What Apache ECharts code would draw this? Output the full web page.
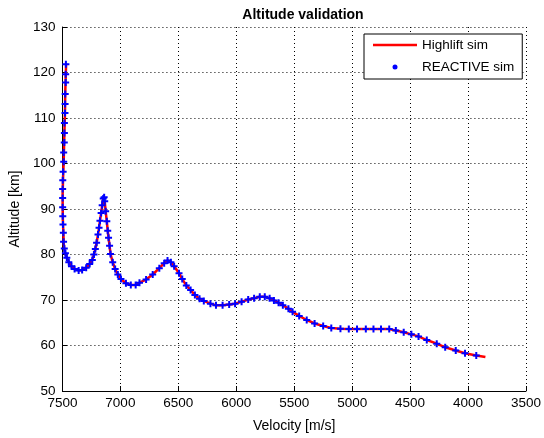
<!DOCTYPE html>
<html>
<head>
<meta charset="utf-8">
<script src="https://cdn.jsdelivr.net/npm/echarts@6/dist/echarts.min.js"></script>
<style>
html,body{margin:0;padding:0;background:#fff;}
#chart{width:544px;height:438px;}
</style>
</head>
<body>
<div id="chart"></div>
<script>
// Tick range
var xTicks = [7500, 7000, 6500, 6000, 5500, 5000, 4500, 4000, 3500];
var yTicks = [50, 60, 70, 80, 90, 100, 110, 120, 130];

// REACTIVE sim (markers)
var reactiveVel = [
  7470, 7472, 7472, 7476, 7477, 7478, 7483, 7483, 7484, 7489, 7489, 7494, 7497, 7498, 7498, 7498, 7497, 7495, 7492,
  7490, 7484, 7474, 7462, 7445, 7422, 7395, 7360, 7330, 7295, 7265, 7242, 7228, 7216, 7205, 7193, 7184, 7176, 7166,
  7157, 7148, 7140, 7135, 7127, 7117, 7109, 7102, 7093, 7085, 7066, 7045, 7022, 6995, 6952, 6910, 6868, 6835, 6778,
  6721, 6664, 6622, 6593, 6564, 6536, 6494, 6466, 6431, 6394, 6357, 6317, 6280, 6223, 6175, 6118, 6061, 6010, 5954,
  5897, 5846, 5797, 5754, 5712, 5675, 5635, 5598, 5550, 5514, 5457, 5392, 5324, 5250, 5180, 5101, 5029, 4958, 4882,
  4816, 4751, 4680, 4623, 4555, 4489, 4427, 4356, 4270, 4197, 4106, 4026, 3929
];
var reactiveAlt = [
  121.8, 119.6, 117.8, 115.3, 113.1, 111.1, 108.9, 106.7, 104.6, 102.4, 100.4, 98.2, 96.3, 94.4, 92.4, 90.4, 88.4, 86.6, 84.8,
  82.8, 81.3, 80.3, 79.3, 78.3, 77.4, 76.8, 76.5, 76.6, 77.1, 77.9, 78.8, 80.0, 81.2, 82.6, 84.4, 85.9, 87.4, 89.1,
  90.8, 92.3, 92.6, 91.7, 89.5, 87.3, 85.2, 83.7, 81.9, 80.1, 78.3, 76.8, 75.6, 74.6, 73.7, 73.3, 73.3, 73.8, 74.5,
  75.6, 77.0, 78.1, 78.7, 78.3, 77.4, 75.9, 74.6, 73.2, 72.2, 71.1, 70.3, 69.8, 69.2, 68.85, 68.85, 69.0, 69.2, 69.6,
  70.1, 70.4, 70.7, 70.7, 70.4, 69.9, 69.4, 68.85, 68.1, 67.4, 66.5, 65.6, 64.85, 64.3, 63.85, 63.7, 63.6, 63.6, 63.6,
  63.6, 63.6, 63.6, 63.3, 62.9, 62.45, 62.0, 61.2, 60.4, 59.6, 58.9, 58.3, 57.8
];

// Highlift sim (line)
var highliftVel = [
  7468, 7472, 7476, 7478, 7483, 7486, 7489, 7494, 7498, 7498, 7496, 7492, 7488, 7480, 7462, 7445, 7422, 7395, 7360,
  7330, 7295, 7265, 7242, 7228, 7216, 7205, 7193, 7184, 7176, 7166, 7157, 7148, 7140, 7135, 7127, 7117, 7109, 7102,
  7093, 7085, 7066, 7045, 7022, 6995, 6952, 6910, 6868, 6835, 6778, 6721, 6664, 6622, 6593, 6564, 6536, 6494, 6466,
  6431, 6394, 6357, 6317, 6280, 6223, 6175, 6118, 6061, 6010, 5954, 5897, 5846, 5797, 5754, 5712, 5675, 5635, 5598,
  5550, 5514, 5457, 5392, 5324, 5250, 5180, 5101, 5029, 4958, 4882, 4816, 4751, 4680, 4623, 4555, 4489, 4427, 4356,
  4270, 4197, 4106, 4026, 3929, 3850
];
var highliftAlt = [
  122.0, 118.8, 115.3, 111.1, 106.7, 103.5, 100.4, 97.2, 93.4, 90.4, 87.5, 84.8, 82.2, 80.6, 79.3, 78.3, 77.4, 76.8, 76.5,
  76.6, 77.1, 77.9, 78.8, 80.0, 81.2, 82.6, 84.4, 85.9, 87.4, 89.1, 90.8, 92.3, 92.6, 91.7, 89.5, 87.3, 85.2, 83.7,
  81.9, 80.1, 78.3, 76.8, 75.6, 74.6, 73.7, 73.3, 73.3, 73.8, 74.5, 75.6, 77.0, 78.1, 78.7, 78.3, 77.4, 75.9, 74.6,
  73.2, 72.2, 71.1, 70.3, 69.8, 69.2, 68.85, 68.85, 69.0, 69.2, 69.6, 70.1, 70.4, 70.7, 70.7, 70.4, 69.9, 69.4, 68.85,
  68.1, 67.4, 66.5, 65.6, 64.85, 64.3, 63.85, 63.7, 63.6, 63.6, 63.6, 63.6, 63.6, 63.6, 63.3, 62.9, 62.45, 62.0, 61.2,
  60.4, 59.6, 58.9, 58.3, 57.8, 57.45
];

function zip(a, b) { return a.map(function (v, i) { return [v, b[i]]; }); }

var FONT = '"Liberation Sans", Arial, sans-serif';
var chart = echarts.init(document.getElementById('chart'), null, { renderer: 'canvas' });

chart.setOption({
  animation: false,
  backgroundColor: '#ffffff',
  title: {
    text: 'Altitude validation',
    left: 298, top: 3, textAlign: 'center',
    textStyle: { fontFamily: FONT, fontSize: 14, fontWeight: 'bold', color: '#000' }
  },
  legend: {
    orient: 'vertical',
    left: 364, top: 34,
    padding: [4, 8, 5, 9],
    itemGap: 8,
    itemWidth: 44, itemHeight: 5,
    backgroundColor: '#fff',
    borderColor: '#000', borderWidth: 1,
    textStyle: { fontFamily: FONT, fontSize: 13.5, color: '#000' },
    data: [
      { name: 'Highlift sim', icon: 'path://M0,0H44V2.5H0Z' },
      { name: 'REACTIVE sim', icon: 'circle' }
    ]
  },
  grid: { left: 62, right: 13, top: 27, bottom: 43 },
  xAxis: {
    type: 'value', inverse: true,
    min: xTicks[xTicks.length - 1], max: xTicks[0], interval: 500,
    name: 'Velocity [m/s]', nameLocation: 'middle', nameGap: 28,
    nameTextStyle: { fontFamily: FONT, fontSize: 14, color: '#000' },
    axisLine: { show: true, lineStyle: { color: '#000', width: 1 } },
    axisTick: { show: true, inside: true, length: 5, lineStyle: { color: '#000' } },
    axisLabel: {
      fontFamily: FONT, fontSize: 13.5, color: '#000', margin: 5,
      showMinLabel: true, showMaxLabel: true,
      formatter: function (v) { return String(v); }
    },
    splitLine: { show: true, lineStyle: { color: '#000', width: 1, type: [1, 3] } }
  },
  yAxis: {
    type: 'value',
    min: yTicks[0], max: yTicks[yTicks.length - 1], interval: 10,
    name: 'Altitude [km]', nameLocation: 'middle', nameGap: 32,
    nameTextStyle: { fontFamily: FONT, fontSize: 14, color: '#000' },
    axisLine: { show: true, lineStyle: { color: '#000', width: 1 } },
    axisTick: { show: true, inside: true, length: 5, lineStyle: { color: '#000' } },
    axisLabel: { fontFamily: FONT, fontSize: 13.5, color: '#000', margin: 7, formatter: function (v) { return String(v); } },
    splitLine: { show: true, lineStyle: { color: '#000', width: 1, type: [1, 3] } }
  },
  series: [
    {
      name: 'Highlift sim', type: 'line',
      data: zip(highliftVel, highliftAlt),
      showSymbol: false, symbol: 'none',
      lineStyle: { color: '#ff0000', width: 2.5 },
      itemStyle: { color: '#ff0000' },
      z: 2
    },
    {
      name: 'REACTIVE sim', type: 'scatter',
      data: zip(reactiveVel, reactiveAlt),
      symbol: 'path://M2.5,0H4.5V2.5H7V4.5H4.5V7H2.5V4.5H0V2.5H2.5Z',
      symbolSize: 7,
      itemStyle: { color: '#0000ff', opacity: 1 },
      z: 3
    }
  ]
});
</script>
</body>
</html>
